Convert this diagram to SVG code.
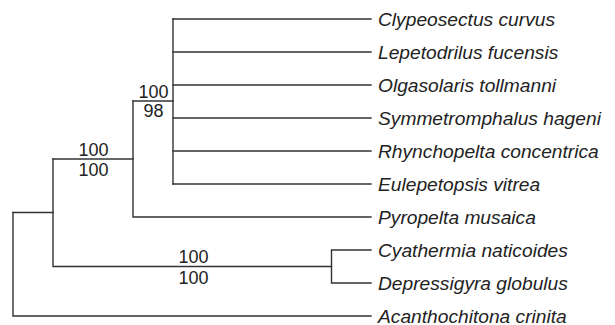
<svg xmlns="http://www.w3.org/2000/svg" width="615" height="325" viewBox="0 0 615 325">
<style>
.br{fill:none;stroke:#333;stroke-width:1.4;stroke-linecap:square}
.tx{font-family:"Liberation Sans",Arial,sans-serif;font-style:italic;font-size:19.2px;fill:#222}
.bs{font-family:"Liberation Sans",Arial,sans-serif;font-size:18px;fill:#222;text-anchor:middle}
</style>
<rect width="615" height="325" fill="#fff"/>
<g id="connectors">
<path class="br" d="M13,212.5V316H371"/>
<path class="br" d="M13,212.5H53"/>
<path class="br" d="M53,159V266.5H331.5"/>
<path class="br" d="M53,159H133"/>
<path class="br" d="M133,101V217H371"/>
<path class="br" d="M133,101H173"/>
<path class="br" d="M173,19V184"/>
<path class="br" d="M173,19H371M173,52H371M173,85H371M173,118H371M173,151H371M173,184H371"/>
<path class="br" d="M331.5,250V283M331.5,250H371M331.5,283H371"/>
</g>
<g id="leaf-clypeosectus"><text class="tx" x="378" y="25.5">Clypeosectus curvus</text></g>
<g id="leaf-lepetodrilus"><text class="tx" x="378" y="58.5">Lepetodrilus fucensis</text></g>
<g id="leaf-olgasolaris"><text class="tx" x="378" y="91.5">Olgasolaris tollmanni</text></g>
<g id="leaf-symmetromphalus"><text class="tx" x="378" y="124.5">Symmetromphalus hageni</text></g>
<g id="leaf-rhynchopelta"><text class="tx" x="378" y="157.5">Rhynchopelta concentrica</text></g>
<g id="leaf-eulepetopsis"><text class="tx" x="378" y="190.5">Eulepetopsis vitrea</text></g>
<g id="leaf-pyropelta"><text class="tx" x="378" y="223.5">Pyropelta musaica</text></g>
<g id="leaf-cyathermia"><text class="tx" x="378" y="256.5">Cyathermia naticoides</text></g>
<g id="leaf-depressigyra"><text class="tx" x="378" y="289.5">Depressigyra globulus</text></g>
<g id="leaf-acanthochitona"><text class="tx" x="378" y="322.5">Acanthochitona crinita</text></g>
<g id="node-a"><text class="bs" x="153.5" y="98">100</text><text class="bs" x="153.5" y="117">98</text></g>
<g id="node-b"><text class="bs" x="93.5" y="156">100</text><text class="bs" x="93.5" y="176">100</text></g>
<g id="node-c"><text class="bs" x="193.5" y="263">100</text><text class="bs" x="193.5" y="283.5">100</text></g>
</svg>
